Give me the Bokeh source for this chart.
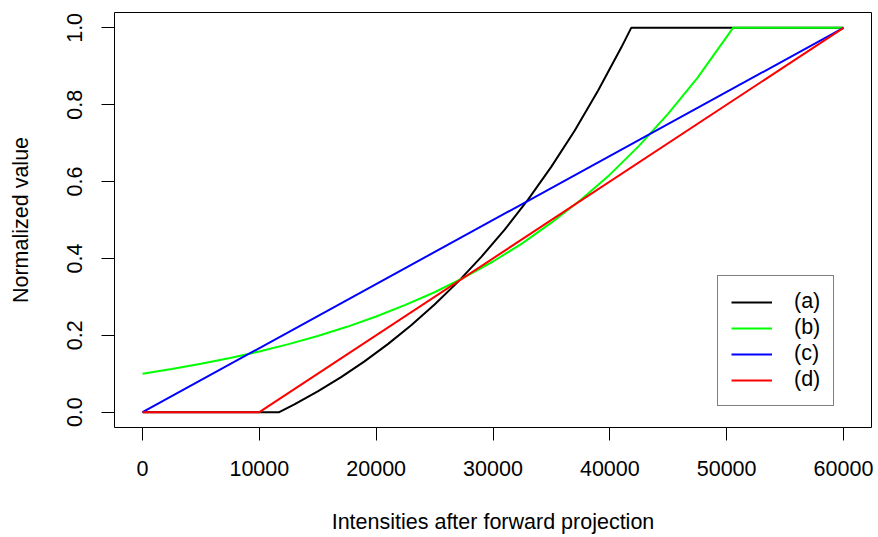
from bokeh.plotting import figure
from bokeh.models import Range1d, FixedTicker, Legend, LegendItem
from bokeh.embed import file_html
from bokeh.resources import INLINE

# ---- data ----
x_ticks = [0, 10000, 20000, 30000, 40000, 50000, 60000]
x_tick_labels = ["0", "10000", "20000", "30000", "40000", "50000", "60000"]
y_ticks = [0.0, 0.2, 0.4, 0.6, 0.8, 1.0]
y_tick_labels = ["0.0", "0.2", "0.4", "0.6", "0.8", "1.0"]

# (a) black
a_x = [0, 11700, 13000, 15000, 17000, 19000, 21000, 23000, 25000, 27000,
       29000, 31000, 33000, 35000, 37000, 39000, 41000, 41830, 60000]
a_y = [0.0, 0.0, 0.020, 0.054, 0.091, 0.132, 0.177, 0.226, 0.280, 0.339,
       0.404, 0.475, 0.553, 0.639, 0.733, 0.837, 0.950, 1.0, 1.0]

# (b) green
b_x = [0, 2500, 5000, 7500, 10000, 12500, 15000, 17500, 20000, 22500, 25000,
       27500, 30000, 32500, 35000, 37500, 40000, 42500, 45000, 47500, 50550, 60000]
b_y = [0.100, 0.112, 0.126, 0.141, 0.158, 0.177, 0.198, 0.222, 0.249, 0.279, 0.312,
       0.350, 0.392, 0.439, 0.493, 0.552, 0.618, 0.693, 0.777, 0.870, 1.0, 1.0]

# (c) blue
c_x = [0, 60000]
c_y = [0.0, 1.0]

# (d) red
d_x = [0, 10000, 60000]
d_y = [0.0, 0.0, 1.0]

series_labels = ["(a)", "(b)", "(c)", "(d)"]
series_colors = ["#000000", "#00FF00", "#0000FF", "#FF0000"]

FONT = "Liberation Sans"
FS = "21.5px"

p = figure(width=878, height=537, output_backend="svg", toolbar_location=None,
           x_range=Range1d(-2400, 62400), y_range=Range1d(-0.04, 1.04),
           min_border_left=114, min_border_right=7, min_border_top=12,
           min_border_bottom=110)

p.background_fill_color = "white"
p.border_fill_color = "white"
p.outline_line_color = "black"
p.outline_line_width = 1
p.xgrid.visible = False
p.ygrid.visible = False

renderers = []
for xs, ys, col in zip([a_x, b_x, c_x, d_x], [a_y, b_y, c_y, d_y], series_colors):
    r = p.line(xs, ys, line_color=col, line_width=2)
    renderers.append(r)

# axes
p.xaxis.ticker = FixedTicker(ticks=x_ticks)
p.xaxis.major_label_overrides = {t: l for t, l in zip(x_ticks, x_tick_labels)}
p.yaxis.ticker = FixedTicker(ticks=y_ticks)
p.yaxis.major_label_overrides = {t: l for t, l in zip(y_ticks, y_tick_labels)}

for ax in (p.xaxis[0], p.yaxis[0]):
    ax.axis_line_color = None
    ax.major_tick_line_color = "black"
    ax.major_tick_line_width = 1
    ax.major_tick_in = 0
    ax.major_tick_out = 13
    ax.minor_tick_line_color = None
    ax.major_label_text_font = FONT
    ax.major_label_text_font_size = FS
    ax.major_label_text_color = "black"
    ax.axis_label_text_font = FONT
    ax.axis_label_text_font_size = FS
    ax.axis_label_text_font_style = "normal"
    ax.axis_label_text_color = "black"

p.xaxis.axis_label = "Intensities after forward projection"
p.xaxis.major_label_standoff = 20
p.xaxis.axis_label_standoff = 31

p.yaxis.axis_label = "Normalized value"
p.yaxis.major_label_orientation = "vertical"
p.yaxis.major_label_standoff = 19
p.yaxis.axis_label_standoff = 32

legend = Legend(
    items=[LegendItem(label=l, renderers=[r]) for l, r in zip(series_labels, renderers)],
    location=(603, 21),
    glyph_width=41, glyph_height=24, label_height=24, label_standoff=22,
    spacing=1, padding=13, margin=0,
    border_line_color="black", border_line_width=1,
    background_fill_color="white", background_fill_alpha=1,
    label_text_font=FONT, label_text_font_size=FS, label_text_color="black",
)
p.add_layout(legend)

open("out.html", "w").write(file_html(p, INLINE))
